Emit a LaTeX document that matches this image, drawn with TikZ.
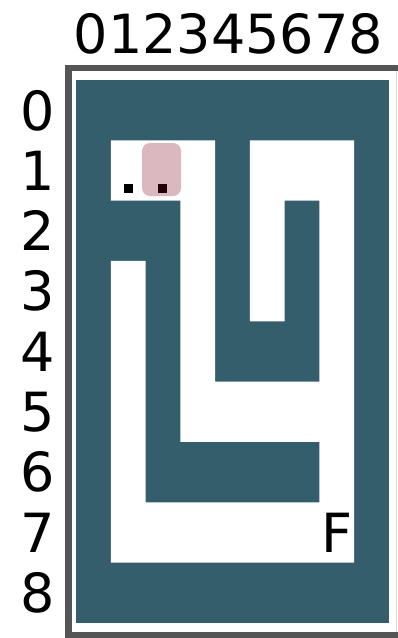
\documentclass[tikz,border=0pt]{standalone}
\usepackage{fontspec}
\setmainfont{DejaVu Sans}
\usetikzlibrary{positioning}
\definecolor{wall}{RGB}{52,94,107}
\definecolor{frame}{RGB}{85,85,85}
\definecolor{trace}{RGB}{128,0,32}
\definecolor{edge}{RGB}{215,215,215}

\begin{document}
\begin{tikzpicture}[
    x=1pt,y=-1pt,
    label/.style={font=\fontsize{54}{60}\selectfont,inner sep=0pt,anchor=base},
    dot/.style={rectangle,fill=black,minimum size=9pt,inner sep=0pt},
    here/.style={fill=trace,fill opacity=0.28,rounded corners=8pt}
]
\useasboundingbox (0,0) rectangle (398,638);

% outer frame
\fill[frame] (65,65) rectangle (398,71);
\fill[frame] (65,65) rectangle (72,638);
\fill[frame] (65,632) rectangle (398,638);
\fill[edge] (395.5,71) rectangle (397,632);

% labels
\node[label] (cols) at (228.5,53) {012345678};
\foreach \r in {0,...,8}
  \node[label] (row\r) at (38,130+60.33*\r) {\r};

% maze
\begin{scope}[shift={(76,80)},x=34.78pt,y=-60.33pt]
  \fill[wall] (0,0) rectangle (9,9);
  \fill[white]
    \foreach \a/\b/\c/\d in {1/1/4/2, 5/1/8/2, 3/1/4/6, 3/5/8/6,
                             5/1/6/4, 7/1/8/8, 1/3/2/8, 1/7/8/8}
      { (\a,\b) rectangle (\c,\d) };
  \node[label] (goal) at (7.5,7.5) [anchor=center] {F};
  \node[dot] (d1) at (1.5,1.795) {};
  \node[dot] (d2) at (2.5,1.795) {};
\end{scope}
\fill[here] (142,143) rectangle (181,196);

\end{tikzpicture}
\end{document}
